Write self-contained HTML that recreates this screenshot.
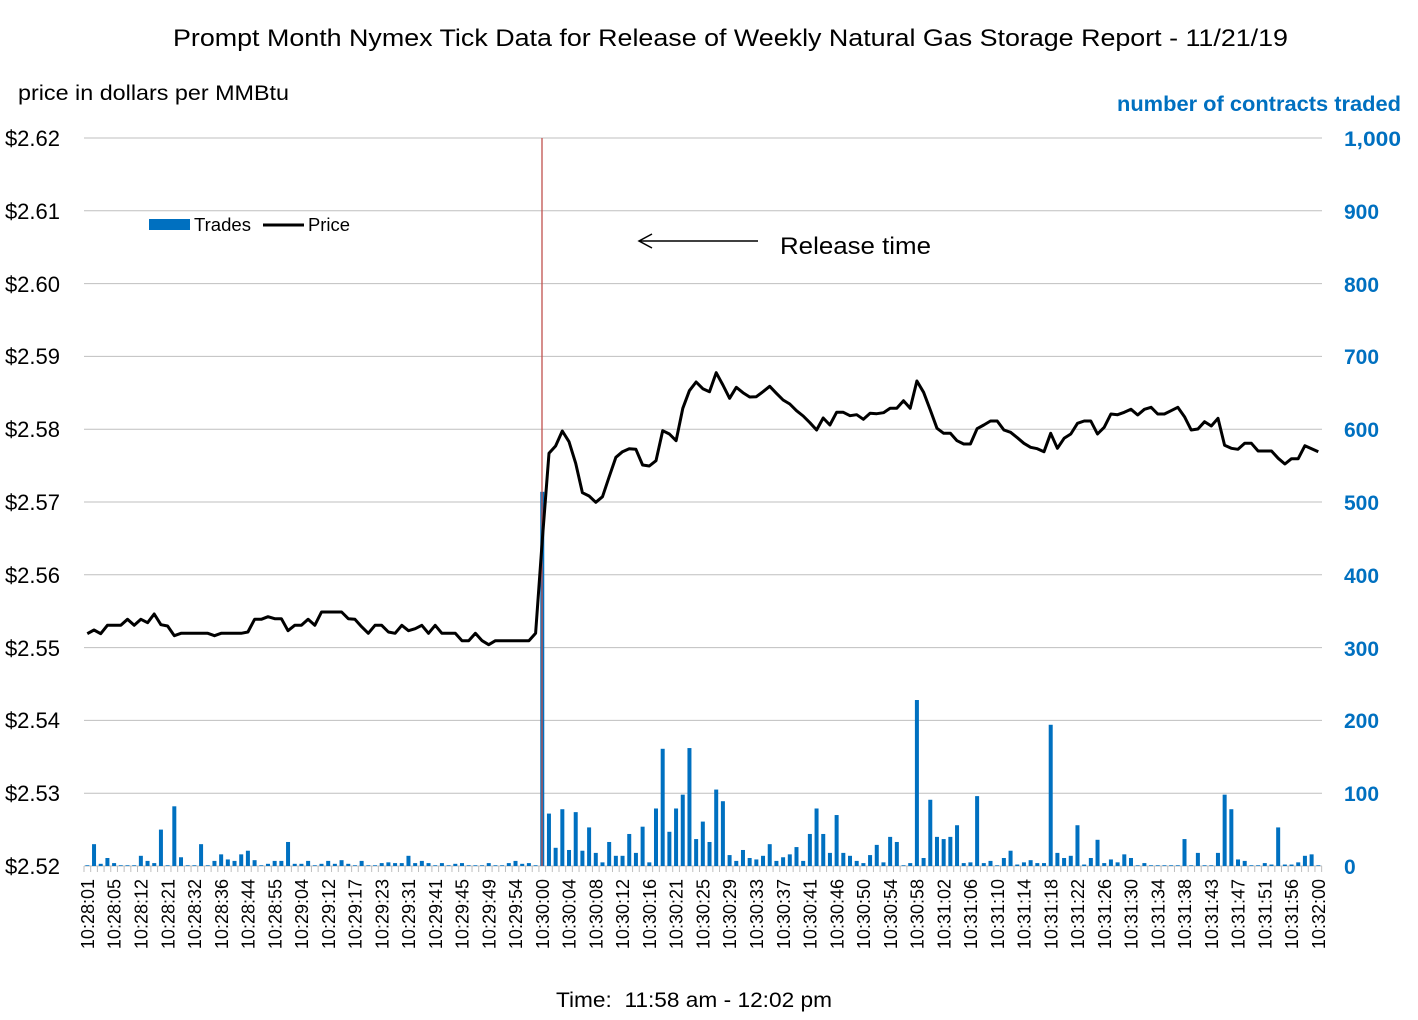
<!DOCTYPE html>
<html><head><meta charset="utf-8"><style>
body{margin:0;background:#fff;}
svg{display:block;font-family:"Liberation Sans",sans-serif;}
</style></head><body>
<svg id="s" width="1418" height="1020" xmlns="http://www.w3.org/2000/svg">
<text x="173" y="46" font-size="24" textLength="1115" lengthAdjust="spacingAndGlyphs" fill="#000">Prompt Month Nymex Tick Data for Release of Weekly Natural Gas Storage Report -  11/21/19</text>
<text x="18" y="100" font-size="21" textLength="271" lengthAdjust="spacingAndGlyphs" fill="#000">price in dollars per MMBtu</text>
<text x="1117" y="111" font-size="21" font-weight="bold" fill="#0070C0" textLength="284" lengthAdjust="spacingAndGlyphs">number of contracts traded</text>
<g id="grid" stroke="#BFBFBF" stroke-width="1"></g>
<g font-size="22" fill="#000" text-anchor="end">
<text x="60" y="146">$2.62</text><text x="60" y="219">$2.61</text><text x="60" y="292">$2.60</text><text x="60" y="364">$2.59</text><text x="60" y="437">$2.58</text><text x="60" y="510">$2.57</text><text x="60" y="583">$2.56</text><text x="60" y="656">$2.55</text><text x="60" y="728">$2.54</text><text x="60" y="801">$2.53</text><text x="60" y="874">$2.52</text>
</g>
<g font-size="21" fill="#0070C0" font-weight="bold">
<text x="1344" y="146" textLength="57" lengthAdjust="spacingAndGlyphs">1,000</text><text x="1344" y="219">900</text><text x="1344" y="292">800</text><text x="1344" y="364">700</text><text x="1344" y="437">600</text><text x="1344" y="510">500</text><text x="1344" y="583">400</text><text x="1344" y="656">300</text><text x="1344" y="728">200</text><text x="1344" y="801">100</text><text x="1344" y="874">0</text>
</g>
<g id="bars" fill="#0070C0"></g>
<line x1="542" y1="138" x2="542" y2="866" stroke="#C0504D" stroke-width="1.3"/>
<polyline id="pl" fill="none" stroke="#000" stroke-width="3" stroke-linejoin="round"/>
<g id="xl" font-size="18" fill="#000" text-anchor="end">
<text transform="translate(94,879) rotate(-90)">10:28:01</text>
<text transform="translate(120.7,879) rotate(-90)">10:28:05</text>
<text transform="translate(147.5,879) rotate(-90)">10:28:12</text>
<text transform="translate(174.3,879) rotate(-90)">10:28:21</text>
<text transform="translate(201,879) rotate(-90)">10:28:32</text>
<text transform="translate(227.8,879) rotate(-90)">10:28:36</text>
<text transform="translate(254.5,879) rotate(-90)">10:28:44</text>
<text transform="translate(281.3,879) rotate(-90)">10:28:55</text>
<text transform="translate(308.1,879) rotate(-90)">10:29:04</text>
<text transform="translate(334.8,879) rotate(-90)">10:29:12</text>
<text transform="translate(361.6,879) rotate(-90)">10:29:17</text>
<text transform="translate(388.4,879) rotate(-90)">10:29:23</text>
<text transform="translate(415.1,879) rotate(-90)">10:29:31</text>
<text transform="translate(441.9,879) rotate(-90)">10:29:41</text>
<text transform="translate(468.6,879) rotate(-90)">10:29:45</text>
<text transform="translate(495.4,879) rotate(-90)">10:29:49</text>
<text transform="translate(522.2,879) rotate(-90)">10:29:54</text>
<text transform="translate(548.9,879) rotate(-90)">10:30:00</text>
<text transform="translate(575.7,879) rotate(-90)">10:30:04</text>
<text transform="translate(602.4,879) rotate(-90)">10:30:08</text>
<text transform="translate(629.2,879) rotate(-90)">10:30:12</text>
<text transform="translate(656,879) rotate(-90)">10:30:16</text>
<text transform="translate(682.7,879) rotate(-90)">10:30:21</text>
<text transform="translate(709.5,879) rotate(-90)">10:30:25</text>
<text transform="translate(736.2,879) rotate(-90)">10:30:29</text>
<text transform="translate(763,879) rotate(-90)">10:30:33</text>
<text transform="translate(789.8,879) rotate(-90)">10:30:37</text>
<text transform="translate(816.5,879) rotate(-90)">10:30:41</text>
<text transform="translate(843.3,879) rotate(-90)">10:30:46</text>
<text transform="translate(870.1,879) rotate(-90)">10:30:50</text>
<text transform="translate(896.8,879) rotate(-90)">10:30:54</text>
<text transform="translate(923.6,879) rotate(-90)">10:30:58</text>
<text transform="translate(950.3,879) rotate(-90)">10:31:02</text>
<text transform="translate(977.1,879) rotate(-90)">10:31:06</text>
<text transform="translate(1003.9,879) rotate(-90)">10:31:10</text>
<text transform="translate(1030.6,879) rotate(-90)">10:31:14</text>
<text transform="translate(1057.4,879) rotate(-90)">10:31:18</text>
<text transform="translate(1084.1,879) rotate(-90)">10:31:22</text>
<text transform="translate(1110.9,879) rotate(-90)">10:31:26</text>
<text transform="translate(1137.7,879) rotate(-90)">10:31:30</text>
<text transform="translate(1164.4,879) rotate(-90)">10:31:34</text>
<text transform="translate(1191.2,879) rotate(-90)">10:31:38</text>
<text transform="translate(1217.9,879) rotate(-90)">10:31:43</text>
<text transform="translate(1244.7,879) rotate(-90)">10:31:47</text>
<text transform="translate(1271.5,879) rotate(-90)">10:31:51</text>
<text transform="translate(1298.2,879) rotate(-90)">10:31:56</text>
<text transform="translate(1325,879) rotate(-90)">10:32:00</text>
</g>
<text x="556" y="1007" font-size="21" textLength="276" lengthAdjust="spacingAndGlyphs" fill="#000" xml:space="preserve">Time:  11:58 am - 12:02 pm</text>
<rect x="149" y="219" width="41" height="11" fill="#0070C0"/>
<text x="194" y="231" font-size="18" textLength="57" lengthAdjust="spacingAndGlyphs" fill="#000">Trades</text>
<line x1="263" y1="225" x2="304" y2="225" stroke="#000" stroke-width="3"/>
<text x="308" y="231" font-size="18" textLength="42" lengthAdjust="spacingAndGlyphs" fill="#000">Price</text>
<line x1="640" y1="241" x2="758" y2="241" stroke="#000" stroke-width="1.5"/>
<polyline points="652,234 639,241 652,248" fill="none" stroke="#000" stroke-width="1.5"/>
<text x="780" y="254" font-size="24" textLength="151" lengthAdjust="spacingAndGlyphs" fill="#000">Release time</text>
</svg>
<script>
var NS="http://www.w3.org/2000/svg";
function el(t,a,p){var e=document.createElementNS(NS,t);for(var k in a)e.setAttribute(k,a[k]);document.getElementById(p).appendChild(e);return e;}
for(var i=0;i<=10;i++){var y=138+72.8*i;el('line',{x1:84,x2:1322,y1:y,y2:y},'grid');}
var W=6.69,X0=84;
for(var i=0;i<=185;i++){var x=X0+W*i;el('line',{x1:x,x2:x,y1:866,y2:872},'grid');}
var B=[1,30,3,11,4,1,1,1,14,7,4,50,1,82,12,1,1,30,1,7,16,9,7,16,21,8,1,3,7,7,33,3,3,7,1,3,7,3,8,3,1,7,1,1,4,5,4,4,14,4,7,4,1,4,1,3,4,1,1,1,4,1,1,4,7,3,4,1,
514,72,25,78,22,74,21,53,18,5,33,14,14,44,18,54,5,79,161,47,79,98,162,37,61,33,105,89,15,7,22,11,9,14,30,7,12,16,26,7,44,79,44,18,70,18,14,7,4,15,29,5,40,33,1,4,228,11,91,
40,37,40,56,4,5,96,4,7,1,11,21,2,5,8,4,4,194,18,11,14,56,2,11,36,4,9,5,16,11,1,4,1,1,1,1,1,37,1,18,1,1,18,98,78,9,7,1,1,4,2,53,2,2,5,14,16,1];
for(var i=0;i<B.length;i++){var h=B[i]*0.728;var cx=X0+W*(i+0.5);el('rect',{x:cx-2,y:866-h,width:4,height:h},'bars');}
var A=[131,120,131,106,106,106,88,106,88,98,72,104,108,137,130,130,130,130,130,137,130,130,130,130,126,88,88,80,86,86,122,106,106,88,106,66,66,66,66,86,88,110,130,106,106,126,130,106,122,116,106,130,106,130,130,130,152,152,130,152,164,152,152,152,152,152,152,130];
var Bz=[280,258,213,245,310,398,408,427,410,350,292,275,266,268,315,318,302,212,222,242,145,92,66,86,95,38,75,115,82,98,111,110,95,79,100,120,132,152,168,188,210,174,195,157,157,167,164,178,160,161,158,145,145,122,145,63,97,150];
var C=[175,190,190,212,222,222,176,165,153,153,180,187,203,220,232,236,245,190,235,205,192,160,153,153,192,172,132,134,127,118,135,118,112,132,132,122,112,140,180,177,155,168,145,226,235,238,220,220,243,243,243,265,282,266,266,227,236,245];
var Y=[];A.forEach(function(v){Y.push(590+v/3);});Y.push(540);Bz.forEach(function(v){Y.push(360+v/3);});C.forEach(function(v){Y.push(370+v/3);});
var pts=Y.map(function(y,i){return (X0+W*(i+0.5)).toFixed(1)+','+y.toFixed(1);}).join(' ');
document.getElementById('pl').setAttribute('points',pts);
</script>
</body></html>
